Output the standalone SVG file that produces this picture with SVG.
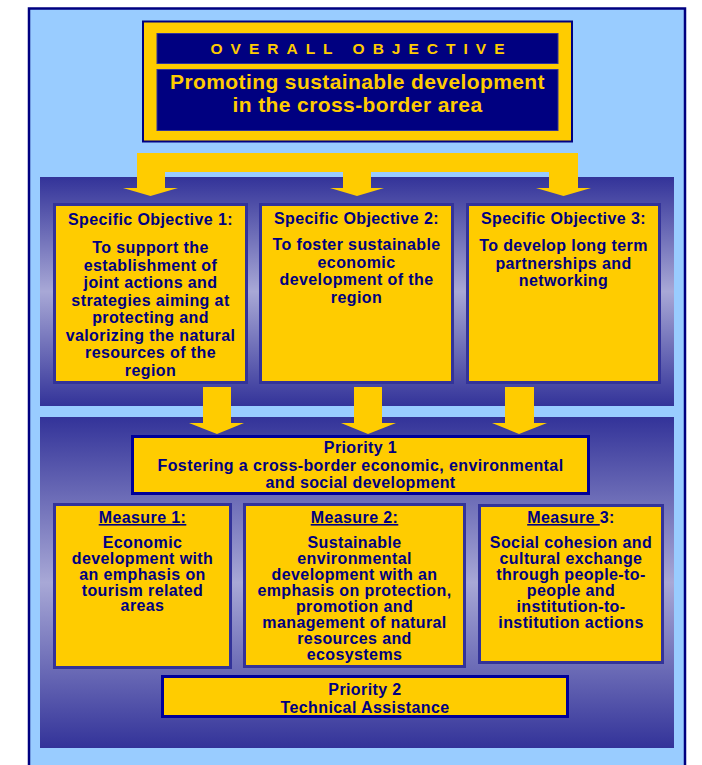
<svg xmlns="http://www.w3.org/2000/svg" width="702" height="765" viewBox="0 0 702 765">
<defs>
<linearGradient id="band" x1="0" y1="0" x2="0" y2="1">
<stop offset="0" stop-color="#333399"/>
<stop offset="0.5" stop-color="#A8A8D6"/>
<stop offset="1" stop-color="#333399"/>
</linearGradient>
<style>
.t{font-family:"Liberation Sans",Arial,sans-serif;font-weight:bold;font-size:16px;fill:#000080;text-anchor:middle;letter-spacing:0.4px}
.box{fill:#FFCC00;stroke:#333399;stroke-width:3}
.pbox{fill:#FFCC00;stroke:#000099;stroke-width:3}
.navy{fill:#000080;stroke:#333399;stroke-width:1}
.y{font-family:"Liberation Sans",Arial,sans-serif;font-weight:bold;fill:#FFCC00;text-anchor:middle}
.u{text-decoration:underline}
.arrow{fill:#FFCC00}
</style>
</defs>
<rect x="0" y="0" width="702" height="765" fill="#FFFFFF"/>
<rect x="29" y="8.5" width="656" height="770" fill="#99CCFF" stroke="#000080" stroke-width="2.5"/>
<rect x="40" y="177" width="634" height="229" fill="url(#band)"/>
<rect x="40" y="417" width="634" height="331" fill="url(#band)"/>

<g id="connectors">
<path class="arrow" d="M137,153 H578 V188 H591 L563.5,196 L536,188 H549 V172 H371 V188 H384 L357,196 L330,188 H343 V172 H165 V188 H178 L150.5,196 L123,188 H137 Z"/>
<path class="arrow" d="M203,387 H231 V423 H244 L217,434 L189,423 H203 Z"/>
<path class="arrow" d="M354,387 H382 V423 H396 L368,434 L341,423 H354 Z"/>
<path class="arrow" d="M505,387 H534 V423 H547 L519,434 L492,423 H505 Z"/>
</g>

<g id="overall">
<rect x="143" y="21.5" width="429" height="120" fill="#FFCC00" stroke="#000080" stroke-width="2"/>
<rect x="157" y="33.5" width="401" height="30" class="navy"/>
<rect x="157" y="69.5" width="401" height="61" class="navy"/>
<text x="361.5" y="53.5" class="y" style="font-size:15.5px;letter-spacing:8px">OVERALL OBJECTIVE</text>
<text x="357.5" y="89" class="y" style="font-size:21px;letter-spacing:0.4px">Promoting sustainable development</text>
<text x="357.5" y="112" class="y" style="font-size:21px;letter-spacing:0.4px">in the cross-border area</text>
</g>

<g id="so1">
<rect x="54.5" y="204.5" width="192" height="178" class="box"/>
<text x="150.5" y="225" class="t">Specific Objective 1:</text>
<text x="150.5" y="253" class="t">To support the</text>
<text x="150.5" y="270.5" class="t">establishment of</text>
<text x="150.5" y="288" class="t">joint actions and</text>
<text x="150.5" y="305.5" class="t">strategies aiming at</text>
<text x="150.5" y="323" class="t">protecting and</text>
<text x="150.5" y="340.5" class="t">valorizing the natural</text>
<text x="150.5" y="358" class="t">resources of the</text>
<text x="150.5" y="375.5" class="t">region</text>
</g>

<g id="so2">
<rect x="260.5" y="204.5" width="192" height="178" class="box"/>
<text x="356.5" y="224" class="t">Specific Objective 2:</text>
<text x="356.5" y="250" class="t">To foster sustainable</text>
<text x="356.5" y="267.5" class="t">economic</text>
<text x="356.5" y="285" class="t">development of the</text>
<text x="356.5" y="302.5" class="t">region</text>
</g>

<g id="so3">
<rect x="467.5" y="204.5" width="192" height="178" class="box"/>
<text x="563.5" y="224" class="t">Specific Objective 3:</text>
<text x="563.5" y="251" class="t">To develop long term</text>
<text x="563.5" y="268.5" class="t">partnerships and</text>
<text x="563.5" y="286" class="t">networking</text>
</g>

<g id="priority1">
<rect x="132.5" y="436.5" width="456" height="57" class="pbox"/>
<text x="360.5" y="453" class="t">Priority 1</text>
<text x="360.5" y="470.5" class="t">Fostering a cross-border economic, environmental</text>
<text x="360.5" y="488" class="t">and social development</text>
</g>

<g id="measure1">
<rect x="54.5" y="504.5" width="176" height="163" class="box"/>
<text x="142.5" y="523" class="t u">Measure 1:</text>
<text x="142.5" y="548" class="t">Economic</text>
<text x="142.5" y="564" class="t">development with</text>
<text x="142.5" y="580" class="t">an emphasis on</text>
<text x="142.5" y="595.5" class="t">tourism related</text>
<text x="142.5" y="611" class="t">areas</text>
</g>

<g id="measure2">
<rect x="244.5" y="504.5" width="220" height="162" class="box"/>
<text x="354.5" y="523" class="t u">Measure 2:</text>
<text x="354.5" y="548" class="t">Sustainable</text>
<text x="354.5" y="564" class="t">environmental</text>
<text x="354.5" y="580" class="t">development with an</text>
<text x="354.5" y="596" class="t">emphasis on protection,</text>
<text x="354.5" y="612" class="t">promotion and</text>
<text x="354.5" y="628" class="t">management of natural</text>
<text x="354.5" y="644" class="t">resources and</text>
<text x="354.5" y="660" class="t">ecosystems</text>
</g>

<g id="measure3">
<rect x="479.5" y="505.5" width="183" height="157" class="box"/>
<text x="571" y="523" class="t"><tspan class="u">Measure </tspan>3:</text>
<text x="571" y="548" class="t">Social cohesion and</text>
<text x="571" y="564" class="t">cultural exchange</text>
<text x="571" y="580" class="t">through people-to-</text>
<text x="571" y="596" class="t">people and</text>
<text x="571" y="612" class="t">institution-to-</text>
<text x="571" y="628" class="t">institution actions</text>
</g>

<g id="priority2">
<rect x="162.5" y="676.5" width="405" height="40" class="pbox"/>
<text x="365" y="695" class="t">Priority 2</text>
<text x="365" y="713" class="t">Technical Assistance</text>
</g>
</svg>
